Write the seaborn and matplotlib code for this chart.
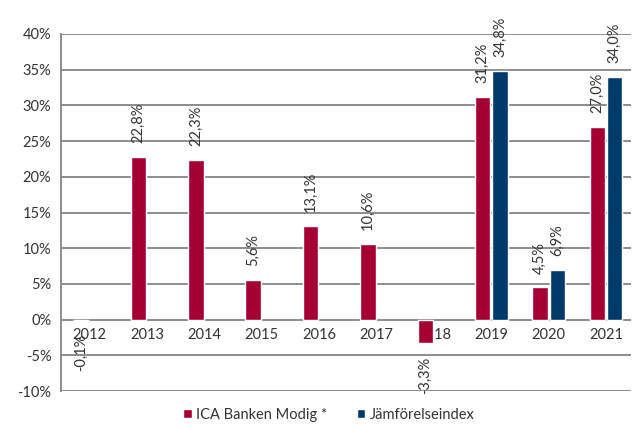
import numpy as np
import pandas as pd
import matplotlib.pyplot as plt
import seaborn as sns

years = ["2012", "2013", "2014", "2015", "2016", "2017", "2018", "2019", "2020", "2021"]
modig = [-0.1, 22.8, 22.3, 5.6, 13.1, 10.6, -3.3, 31.2, 4.5, 27.0]
index_vals = [np.nan, np.nan, np.nan, np.nan, np.nan, np.nan, np.nan, 34.8, 6.9, 34.0]
series_names = ["ICA Banken Modig *", "Jämförelseindex"]
colors = ["#A50034", "#003A6B"]
yticks = [-10, -5, 0, 5, 10, 15, 20, 25, 30, 35, 40]

df = pd.DataFrame({
    "År": years * 2,
    "Serie": [series_names[0]] * len(years) + [series_names[1]] * len(years),
    "Avkastning": modig + index_vals,
})

sns.set_style("white")
plt.rcParams['font.family'] = ['Lato', 'DejaVu Sans']
text_color = "#333333"
grid_color = "#8c8c8c"

fig = plt.figure(figsize=(6.33, 4.28), dpi=100)
ax = fig.add_axes([0.0964, 0.0864, 0.9, 0.8342])

sns.barplot(data=df, x="År", y="Avkastning", hue="Serie", order=years,
            hue_order=series_names, palette=colors, width=0.6, gap=0.1,
            saturation=1, ax=ax, legend=True)

ax.set_ylim(-10, 40)
ax.set_yticks(yticks)
ax.set_yticklabels([f"{t}%" for t in yticks], color=text_color, fontsize=10.5)
ax.set_xlim(-0.5, 9.43)
ax.yaxis.grid(True, color=grid_color, linewidth=1.4)
ax.set_axisbelow(True)
for s in ["top", "right", "bottom"]:
    ax.spines[s].set_visible(False)
ax.spines["left"].set_color(grid_color)
ax.spines["left"].set_linewidth(1.4)
ax.spines["bottom"].set_position(("data", 0))
ax.tick_params(axis="both", length=0, pad=7)
ax.tick_params(axis="x", labelsize=10.5, labelcolor=text_color, pad=6)
ax.set_xlabel("")
ax.set_ylabel("")

# data labels
for cont in ax.containers:
    for bar in cont:
        h = bar.get_height()
        if np.isnan(h):
            continue
        xc = bar.get_x() + bar.get_width() / 2
        lbl = f"{h:.1f}%".replace(".", ",")
        if h >= 0:
            ax.annotate(lbl, (xc, h), xytext=(0, 10), textcoords="offset points",
                        rotation=90, ha="center", va="bottom", fontsize=10.5,
                        color=text_color, annotation_clip=False)
        else:
            ax.annotate(lbl, (xc, h), xytext=(0, -10), textcoords="offset points",
                        rotation=90, ha="center", va="top", fontsize=10.5,
                        color=text_color, annotation_clip=False)

leg = ax.legend(loc="upper center", bbox_to_anchor=(0.47, -0.01), ncol=2,
                frameon=False, fontsize=10.5, handlelength=0.6, handleheight=0.6,
                handletextpad=0.3, columnspacing=2.0)
for t in leg.get_texts():
    t.set_color(text_color)

fig.savefig("out.png", dpi=100)
